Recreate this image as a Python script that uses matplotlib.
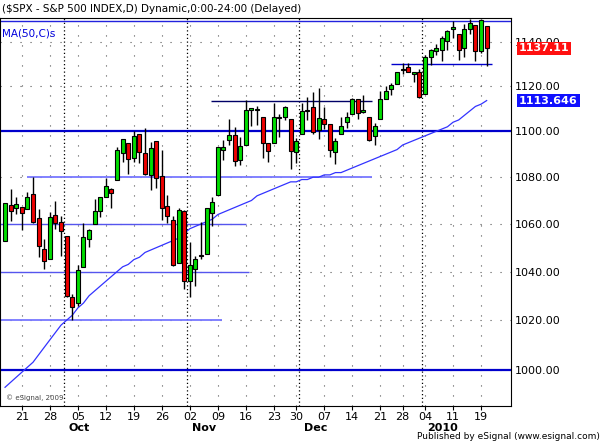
import matplotlib
matplotlib.use('Agg')
import matplotlib.pyplot as plt
import numpy as np

# daily bars, Sep 16 2009 .. Jan 20 2010
dates = ['09-16','09-17','09-18','09-21','09-22','09-23','09-24','09-25','09-28','09-29','09-30',
         '10-01','10-02','10-05','10-06','10-07','10-08','10-09','10-12','10-13','10-14','10-15','10-16',
         '10-19','10-20','10-21','10-22','10-23','10-26','10-27','10-28','10-29','10-30',
         '11-02','11-03','11-04','11-05','11-06','11-09','11-10','11-11','11-12','11-13','11-16','11-17',
         '11-18','11-19','11-20','11-23','11-24','11-25','11-27','11-30',
         '12-01','12-02','12-03','12-04','12-07','12-08','12-09','12-10','12-11','12-14','12-15','12-16',
         '12-17','12-18','12-21','12-22','12-23','12-24','12-28','12-29','12-30','12-31',
         '01-04','01-05','01-06','01-07','01-08','01-11','01-12','01-13','01-14','01-15','01-19','01-20']
opens = [1053.0,1068.1,1066.6,1067.1,1066.4,1072.7,1062.6,1049.5,1045.4,1063.7,1061.0,
         1054.9,1029.7,1026.9,1042.0,1053.7,1060.0,1065.3,1071.6,1074.9,1078.7,1090.4,1094.7,
         1088.2,1098.6,1090.4,1080.9,1095.6,1080.4,1067.5,1061.5,1043.7,1065.4,
         1036.2,1040.9,1047.1,1047.3,1064.8,1072.3,1091.9,1096.0,1098.3,1087.6,1094.1,1109.2,
         1109.4,1106.4,1094.7,1094.9,1106.5,1106.5,1105.5,1091.1,
         1098.9,1109.0,1110.6,1100.4,1105.5,1103.0,1091.1,1098.7,1103.9,1107.8,1114.1,1108.6,
         1106.4,1097.9,1105.3,1114.5,1118.8,1121.1,1127.5,1128.6,1125.5,1126.6,
         1116.6,1133.0,1135.7,1136.3,1140.5,1146.0,1143.8,1137.3,1145.7,1147.7,1136.0,1147.5]
highs = [1068.8,1074.8,1071.5,1067.3,1073.8,1080.2,1066.3,1053.5,1065.1,1069.6,1063.4,
         1054.9,1030.6,1042.6,1060.6,1058.0,1070.7,1071.5,1079.5,1075.3,1093.2,1096.6,1094.7,
         1100.2,1098.6,1101.4,1095.2,1095.8,1091.8,1072.5,1063.3,1066.8,1066.0,
         1052.2,1046.4,1061.0,1066.7,1071.5,1093.2,1096.4,1105.4,1101.7,1097.6,1113.7,1110.5,
         1111.1,1106.4,1094.7,1112.4,1107.6,1111.2,1105.5,1097.2,
         1112.3,1115.0,1117.3,1119.1,1110.7,1103.0,1097.0,1106.3,1108.5,1114.8,1114.1,1116.2,
         1106.4,1103.7,1117.7,1120.3,1121.6,1126.5,1130.4,1130.4,1126.4,1127.6,
         1133.9,1136.6,1139.2,1142.5,1145.4,1149.7,1143.8,1148.4,1150.4,1147.8,1150.5,1147.5]
lows = [1052.9,1061.2,1064.3,1057.5,1066.4,1060.4,1045.9,1041.2,1045.4,1057.8,1046.5,
        1029.4,1019.9,1025.9,1042.0,1050.1,1060.0,1063.0,1071.6,1066.7,1078.7,1086.4,1081.5,
        1086.5,1086.2,1080.8,1074.3,1075.5,1061.7,1060.6,1042.2,1043.7,1033.0,
        1029.4,1033.9,1045.2,1047.3,1059.3,1072.3,1087.4,1093.8,1084.7,1085.3,1094.1,1102.2,
        1102.7,1088.4,1086.8,1094.9,1097.6,1104.8,1083.7,1086.3,
        1098.9,1104.9,1098.7,1096.5,1100.8,1088.6,1085.9,1098.7,1101.3,1107.8,1105.4,1107.9,
        1095.9,1093.9,1105.3,1114.5,1116.0,1121.1,1125.3,1126.2,1121.9,1114.8,
        1116.6,1129.7,1133.9,1131.3,1136.2,1142.0,1131.8,1133.2,1143.8,1131.4,1135.2,1129.3]
closes = [1068.8,1065.5,1068.3,1064.7,1071.7,1060.9,1050.8,1044.4,1063.0,1060.6,1057.1,
          1029.9,1025.2,1040.5,1054.7,1057.6,1065.5,1071.5,1076.2,1073.2,1092.0,1096.6,1087.7,
          1097.9,1091.1,1081.4,1092.9,1079.6,1067.0,1063.4,1042.6,1066.1,1036.2,
          1042.9,1045.4,1046.5,1066.6,1069.3,1093.1,1093.0,1098.5,1087.2,1093.5,1109.3,1110.3,
          1109.8,1094.9,1091.4,1106.2,1105.7,1110.6,1091.5,1095.6,
          1108.9,1109.2,1099.9,1106.0,1103.3,1091.9,1095.9,1102.4,1106.4,1114.1,1107.9,1109.2,
          1096.1,1102.5,1114.1,1118.0,1120.6,1126.5,1127.8,1126.2,1126.4,1115.1,
          1133.0,1136.5,1137.1,1141.7,1145.0,1147.0,1136.2,1145.7,1148.5,1136.0,1150.2,1137.1]
ma50 = [993,995,997,999,1001,1003,1006,1009,1012,1015,1018,
        1020,1022,1025,1027,1030,1032,1034,1036,1038,1040,1042,1043,
        1045,1046,1048,1049,1050,1051,1052,1053,1054,1056,
        1058,1059,1060,1061,1062,1064,1065,1066,1067,1068,1069,1070,
        1072,1073,1074,1075,1076,1077,1078,1078,
        1079,1079,1080,1080,1081,1081,1082,1082,1083,1084,1085,1086,
        1087,1088,1089,1090,1091,1092,1094,1095,1096,1097,
        1098,1099,1100,1101,1102,1104,1105,1107,1109,1111,1112,1113.6]

tick_labels = ['21','28','05','12','19','26','02','09','16','23','30','07','14','21','28','04','11','19']
tick_dates = ['09-21','09-28','10-05','10-12','10-19','10-26','11-02','11-09','11-16','11-23','11-30',
              '12-07','12-14','12-21','12-28','01-04','01-11','01-19']
months = ['Oct', 'Nov', 'Dec', '2010']
month_dates = ['10-01', '11-02', '12-01', '01-04']

x = np.arange(len(dates))
pos = {d: i for i, d in enumerate(dates)}

fig = plt.figure(figsize=(6.03, 4.43), dpi=100)
ax = fig.add_axes([0.0, 0.0835, 0.847, 0.876])
ax.set_yscale('log')
ax.set_ylim(985.6, 1151)
ax.set_xlim(-0.9, 90.3)

# grid
for v in [1000, 1020, 1040, 1060, 1080, 1100, 1120, 1140]:
    ax.axhline(v, color='#555555', lw=0.8, ls=(0, (1, 8)), zorder=0)
for d in tick_dates:
    ax.axvline(pos[d], color='#555555', lw=0.8, ls=(0, (1, 8)), zorder=0)
for d in month_dates:
    ax.axvline(pos[d] - 0.5, color='black', lw=0.9, ls=(0, (1, 2)), zorder=0)

# drawn trend lines
ax.axhline(1100, color='#0000cc', lw=1.6, zorder=1)
ax.axhline(1000, color='#0000cc', lw=1.6, zorder=1)
ax.axhline(1149.6, color='#2222dd', lw=1.0, zorder=1)
ax.hlines(1080, 3.9, 65.6, color='#7777ff', lw=1.3, zorder=1)
ax.hlines(1060, -1, 43, color='#5555ee', lw=1.0, zorder=1)
ax.hlines(1040, -1, 43.6, color='#5555ee', lw=1.0, zorder=1)
ax.hlines(1020, -1, 38.8, color='#7777ff', lw=1.3, zorder=1)
ax.hlines(1113.5, 36.8, 65.6, color='#000066', lw=1.0, zorder=1)
ax.hlines(1130, 68.9, 87, color='#0000cc', lw=1.0, zorder=1)

ax.plot(x, ma50, color='#3333ff', lw=0.9, zorder=2)

for i in x:
    o, h, l, c = opens[i], highs[i], lows[i], closes[i]
    ax.vlines(i, l, h, color='black', lw=1.0, zorder=3)
    col = '#00dd00' if c >= o else '#ee0000'
    lo, hi = min(o, c), max(o, c)
    if hi - lo < 0.4:
        hi = lo + 0.4
    ax.bar(i, hi - lo, bottom=lo, width=0.7, color=col, edgecolor='black', lw=0.8, zorder=4)

ax.yaxis.tick_right()
ax.set_yticks([1000, 1020, 1040, 1060, 1080, 1100, 1120, 1140])
ax.set_yticklabels(['1000.00', '1020.00', '1040.00', '1060.00', '1080.00', '1100.00', '1120.00', '1140.00'])
ax.minorticks_off()
ax.tick_params(axis='y', length=0, labelsize=8, pad=3)
ax.set_xticks([pos[d] for d in tick_dates])
ax.set_xticklabels(tick_labels)
ax.tick_params(axis='x', length=3, labelsize=8, pad=1)
for d, m in zip(month_dates, months):
    ax.annotate(m, (pos[d] + 0.3, 0), xycoords=('data', 'axes fraction'), xytext=(0, -12),
                textcoords='offset points', fontsize=8, fontweight='bold', ha='left', va='top')

ax.text(len(dates) + 4.8, closes[-1], '1137.11', color='white', fontsize=8, fontweight='bold',
        va='center', ha='left', zorder=10,
        bbox=dict(boxstyle='square,pad=0.15', fc='#ff1010', ec='none'), clip_on=False)
ax.text(len(dates) + 4.8, ma50[-1], '1113.646', color='white', fontsize=8, fontweight='bold',
        va='center', ha='left', zorder=10,
        bbox=dict(boxstyle='square,pad=0.15', fc='#1010ff', ec='none'), clip_on=False)

fig.text(0.003, 0.992, '($SPX - S&P 500 INDEX,D) Dynamic,0:00-24:00 (Delayed)', fontsize=7.5, va='top')
fig.text(0.003, 0.935, 'MA(50,C)s', fontsize=7.5, va='top', color='#0000dd')
ax.text(0.012, 0.015, '© eSignal, 2009', transform=ax.transAxes, fontsize=5, color='#444444')
fig.text(0.995, 0.004, 'Published by eSignal (www.esignal.com)', fontsize=6.5, ha='right', va='bottom')

fig.savefig('out.png', dpi=100)
